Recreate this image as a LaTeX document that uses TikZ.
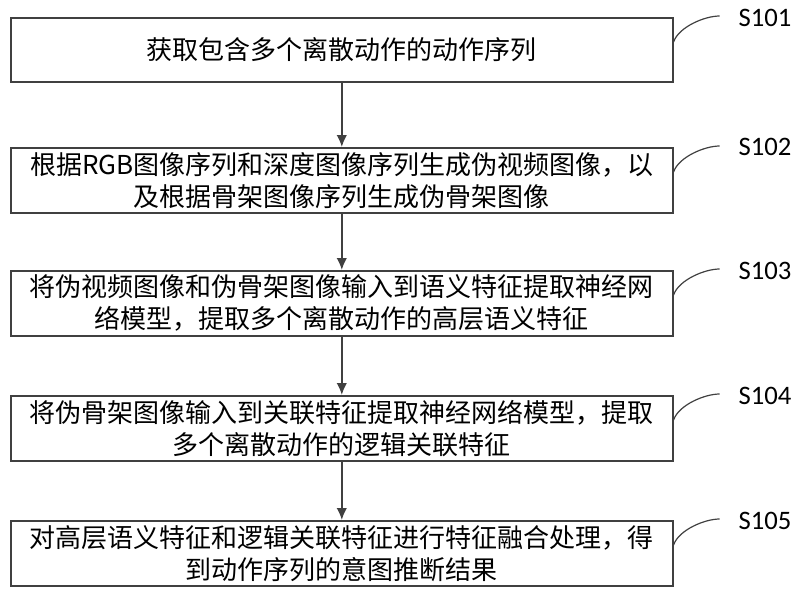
\documentclass[tikz,border=0pt]{standalone}
\usepackage{fontspec}
\setmainfont{Noto Sans CJK SC}
\newfontfamily\lab{Carlito}
\begin{document}
\begin{tikzpicture}[x=0.75pt,y=-0.75pt,
  box/.style={draw=black!75,line width=1.2pt,minimum width=662*0.75pt,anchor=north west,inner sep=0pt,align=center,font=\fontsize{19.5}{24}\selectfont},
  arr/.style={draw=black!75,line width=1.5pt,-{Latex[length=9pt,width=8pt]}},
  lnk/.style={draw=black!75,line width=0.9pt},
  lb/.style={font=\lab\fontsize{20}{22}\selectfont,anchor=west}]
\usetikzlibrary{arrows.meta}
\useasboundingbox (0,0) rectangle (800,603);
\node[box,minimum height=64*0.75pt] (b1) at (10,17) {获取包含多个离散动作的动作序列};
\node[box,minimum height=65*0.75pt] (b2) at (10,147) {根据RGB图像序列和深度图像序列生成伪视频图像，以\\及根据骨架图像序列生成伪骨架图像};
\node[box,minimum height=65*0.75pt] (b3) at (10,270) {将伪视频图像和伪骨架图像输入到语义特征提取神经网\\络模型，提取多个离散动作的高层语义特征};
\node[box,minimum height=65*0.75pt] (b4) at (10,395) {将伪骨架图像输入到关联特征提取神经网络模型，提取\\多个离散动作的逻辑关联特征};
\node[box,minimum height=65*0.75pt] (b5) at (10,520) {对高层语义特征和逻辑关联特征进行特征融合处理，得\\到动作序列的意图推断结果};
\draw[arr] (b1) -- (b2);
\draw[arr] (b2) -- (b3);
\draw[arr] (b3) -- (b4);
\draw[arr] (b4) -- (b5);
\foreach \b/\y/\t in {b1/18/S101,b2/147/S102,b3/271/S103,b4/396/S104,b5/521/S105}{
  \node[lb] (l\b) at (734,\y) {\t};
  \draw[lnk] (\b.north east) ++(0,25) .. controls +(5,-15) and +(-15,0) .. +(46,-26);
}
\end{tikzpicture}
\end{document}
